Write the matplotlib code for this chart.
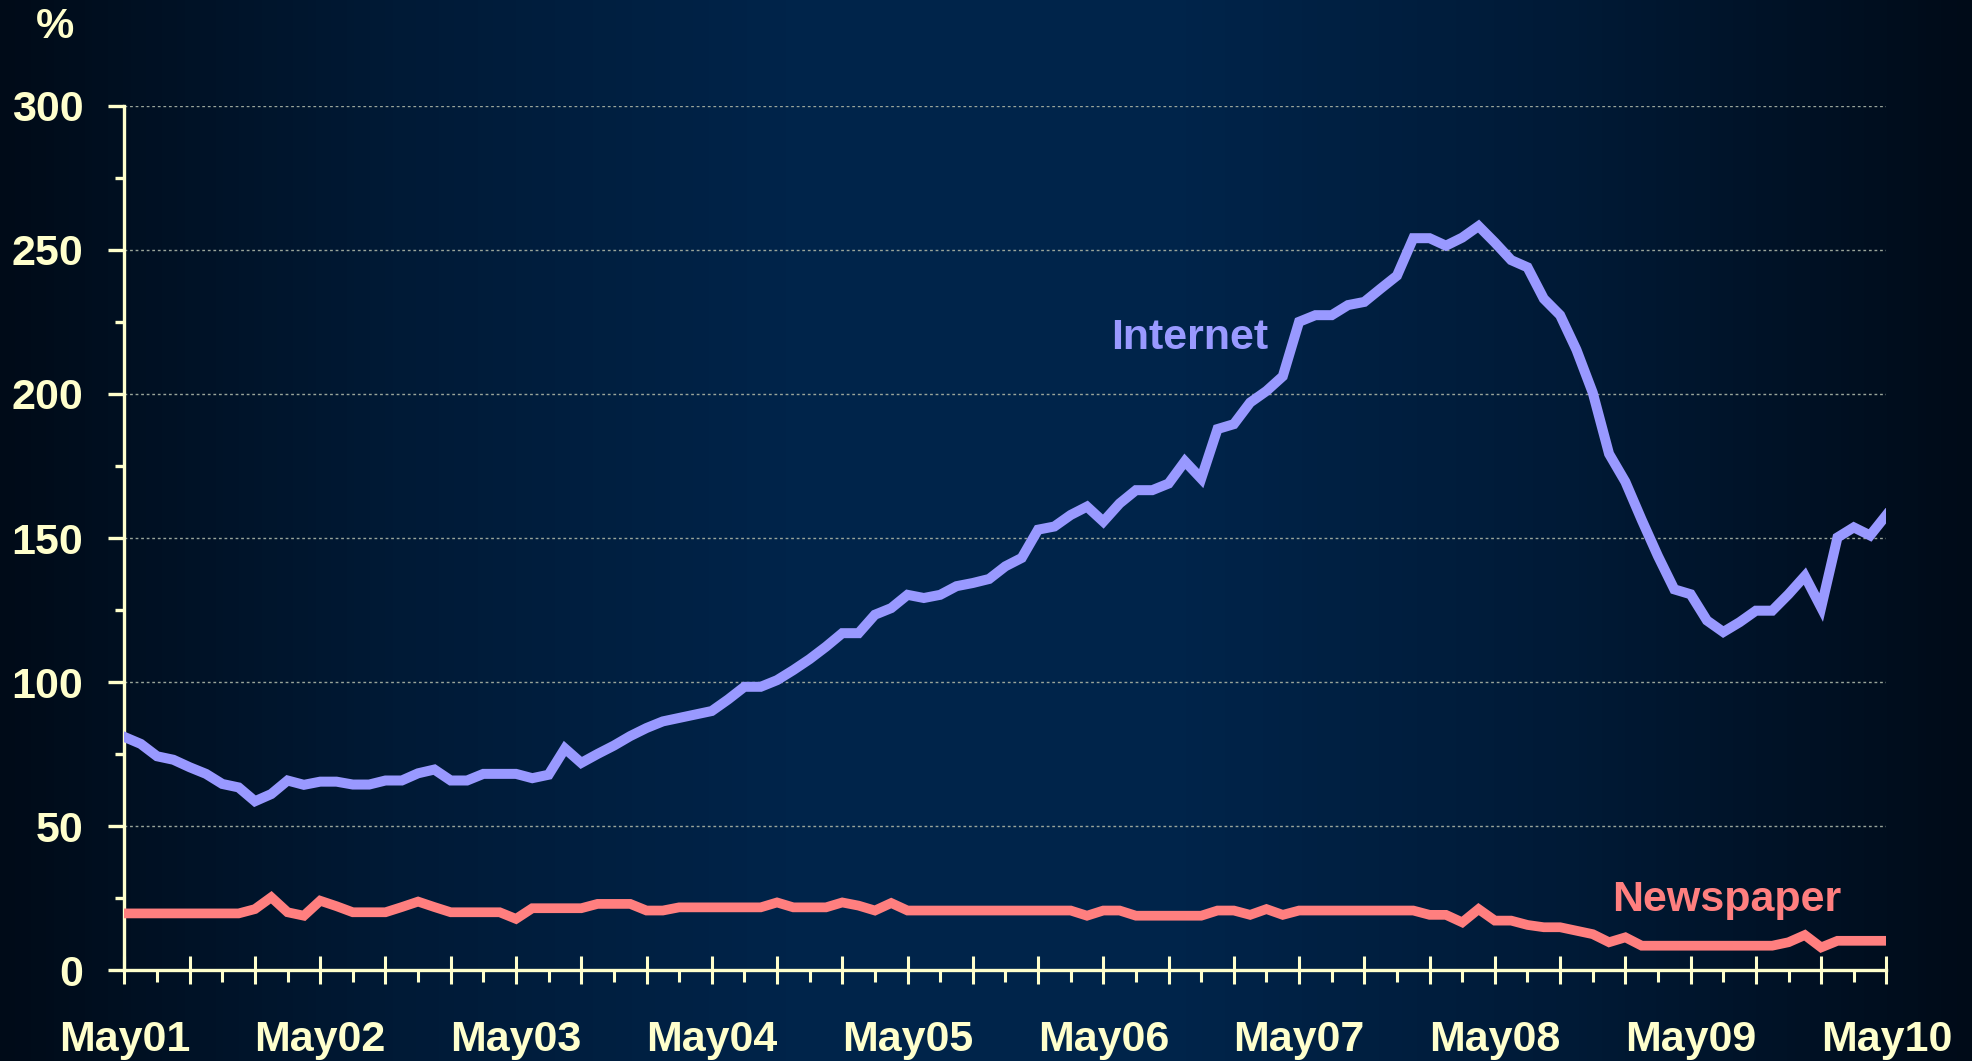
import numpy as np
import matplotlib
matplotlib.use("Agg")
import matplotlib.pyplot as plt
from matplotlib.colors import LinearSegmentedColormap
from matplotlib.ticker import FixedLocator, MultipleLocator

# ---------------- data ----------------
year_labels = ["May01", "May02", "May03", "May04", "May05",
               "May06", "May07", "May08", "May09", "May10"]

internet = [81, 78.6, 74.3, 73.1, 70.5, 68.2, 64.7, 63.5, 58.7, 61.2,
            65.9, 64.4, 65.5, 65.5, 64.5, 64.5, 65.9, 65.9, 68.4, 69.7,
            65.9, 65.9, 68.2, 68.2, 68.2, 66.7, 67.9, 77.0, 72.0, 75.1,
            78.0, 81.3, 84.1, 86.4, 87.6, 88.8, 90.0, 94.0, 98.4, 98.4,
            100.7, 104.2, 108.0, 112.3, 117.0, 117.0, 123.4, 125.7, 130.3, 129.2,
            130.3, 133.3, 134.4, 135.8, 140.2, 143.1, 152.9, 154.0, 158.0, 160.9,
            155.7, 162.0, 166.6, 166.6, 168.9, 176.6, 170.6, 187.8, 189.5, 197.0,
            201.0, 206.1, 225.0, 227.3, 227.3, 230.8, 231.9, 236.5, 241.0, 254.0,
            254.0, 251.4, 254.2, 258.2, 252.5, 246.4, 243.9, 233.0, 227.3, 215.3,
            200.4, 179.2, 169.5, 156.3, 143.7, 132.2, 130.5, 121.4, 117.4, 120.8,
            124.8, 124.8, 130.5, 136.8, 125.9, 150.2, 153.7, 150.9, 158.0]

newspaper = [19.8, 19.8, 19.8, 19.8, 19.8, 19.8, 19.8, 19.8, 21.3, 25.4,
             20.2, 19.0, 24.2, 22.3, 20.2, 20.2, 20.2, 22.0, 23.9, 22.0,
             20.2, 20.2, 20.2, 20.2, 17.9, 21.6, 21.6, 21.6, 21.6, 23.1,
             23.1, 23.1, 20.8, 20.8, 21.9, 21.9, 21.9, 21.9, 21.9, 21.9,
             23.6, 21.9, 21.9, 21.9, 23.6, 22.5, 20.8, 23.4, 20.8, 20.8,
             20.8, 20.8, 20.8, 20.8, 20.8, 20.8, 20.8, 20.8, 20.8, 19.0,
             20.8, 20.8, 19.0, 19.0, 19.0, 19.0, 19.0, 20.8, 20.8, 19.3,
             21.3, 19.3, 20.8, 20.8, 20.8, 20.8, 20.8, 20.8, 20.8, 20.8,
             19.3, 19.3, 16.7, 21.3, 17.3, 17.3, 15.8, 15.0, 15.0, 13.8,
             12.6, 9.8, 11.5, 8.6, 8.6, 8.6, 8.6, 8.6, 8.6, 8.6,
             8.6, 8.6, 9.8, 12.3, 8.0, 10.3, 10.3, 10.3, 10.3]

months = np.arange(len(internet))

# ---------------- style ----------------
FONT = ["Liberation Sans", "DejaVu Sans"]
plt.rcParams["font.family"] = FONT
plt.rcParams["font.weight"] = "bold"
CREAM = "#FFFFCC"
C_INT = "#9999FF"
C_NEWS = "#FF7F7F"

fig = plt.figure(figsize=(19.72, 10.61), dpi=100)

# background gradient
bg = fig.add_axes([0, 0, 1, 1], zorder=-10)
cmap = LinearSegmentedColormap.from_list(
    "bg", ["#000b18", "#001a36", "#00244a", "#00244a", "#001a36", "#000b18"])
grad = np.linspace(0, 1, 512).reshape(1, -1)
bg.imshow(grad, aspect="auto", cmap=cmap, extent=[0, 1, 0, 1])
bg.set_axis_off()

ax = fig.add_axes([0.0631, 0.0853, 0.8935, 0.8152])
ax.patch.set_alpha(0)

ax.plot(months, internet, color=C_INT, lw=7.2, solid_joinstyle="miter", zorder=3)
ax.plot(months, newspaper, color=C_NEWS, lw=7.0, solid_joinstyle="miter", zorder=3)

ax.set_xlim(0, len(internet) - 1)
ax.set_ylim(0, 300)

# grid
ax.yaxis.set_major_locator(MultipleLocator(50))
ax.yaxis.set_minor_locator(MultipleLocator(25))
ax.grid(axis="y", which="major", color="#9aa59a", lw=1.0, ls=(0, (2, 2)), zorder=1)
ax.set_axisbelow(True)

# spines
for s in ["top", "right"]:
    ax.spines[s].set_visible(False)
for s in ["left", "bottom"]:
    ax.spines[s].set_color(CREAM)
    ax.spines[s].set_linewidth(2.4)

# x ticks: major every 4 months (inout), minor every 2 months (out)
major_pos = list(range(0, len(internet), 4))
lab = []
for p in major_pos:
    lab.append(year_labels[p // 12] if p % 12 == 0 else "")
ax.xaxis.set_major_locator(FixedLocator(major_pos))
ax.set_xticklabels(lab)
ax.xaxis.set_minor_locator(FixedLocator(list(range(2, len(internet), 4))))
ax.tick_params(axis="x", which="major", direction="inout", length=20, width=2.2,
               color=CREAM, labelcolor=CREAM, labelsize=31, pad=26)
ax.tick_params(axis="x", which="minor", direction="out", length=8.5, width=2.2,
               color=CREAM)

ax.tick_params(axis="y", which="major", direction="out", length=11.5, width=2.4,
               color=CREAM, labelcolor=CREAM, labelsize=31, pad=18)
ax.tick_params(axis="y", which="minor", direction="out", length=6.5, width=2.4,
               color=CREAM)
for t in ax.get_xticklabels() + ax.get_yticklabels():
    t.set_fontweight("bold")

# labels
fig.text(0.0279, 0.975, "%", color=CREAM, fontsize=31, fontweight="bold",
         ha="center", va="center")
ax.text(65.3, 219.5, "Internet", color=C_INT, fontsize=31, fontweight="bold",
        ha="center", va="center")
ax.text(98.2, 24.3, "Newspaper", color=C_NEWS, fontsize=31, fontweight="bold",
        ha="center", va="center")

fig.savefig("out.png", dpi=100)
